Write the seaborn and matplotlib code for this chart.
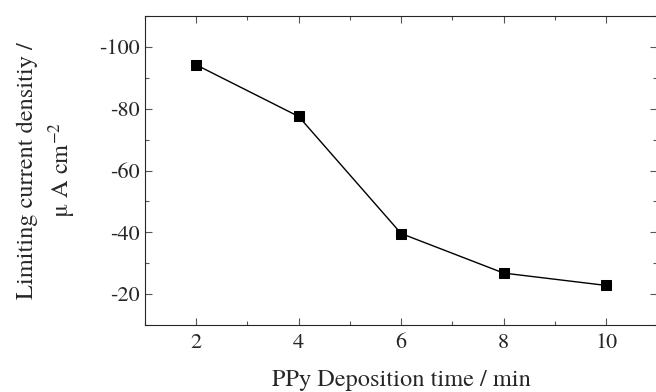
import matplotlib
matplotlib.use("Agg")
import matplotlib.pyplot as plt
import seaborn as sns
import pandas as pd
from matplotlib.ticker import MultipleLocator

deposition_time = [2, 4, 6, 8, 10]
current_density = [-94.2, -77.5, -39.6, -26.8, -22.8]
x_ticks = [2, 4, 6, 8, 10]
y_ticks = [-100, -80, -60, -40, -20]

sns.set_style("ticks")
plt.rcParams['font.family'] = ['TeX Gyre Termes', 'Liberation Serif', 'DejaVu Serif']
plt.rcParams['mathtext.fontset'] = 'stix'
plt.rcParams['axes.unicode_minus'] = False

df = pd.DataFrame({"t": deposition_time, "j": current_density})

fig = plt.figure(figsize=(6.56, 3.92), dpi=100)
ax = fig.add_axes([0.221, 0.171, 0.781, 0.788])

sns.lineplot(data=df, x="t", y="j", ax=ax, color="black", linewidth=1.0,
             marker="s", markersize=6.5, markeredgecolor="black",
             markerfacecolor="black")

ax.set_xlim(1, 11)
ax.set_ylim(-10, -110)
ax.set_xticks(x_ticks)
ax.set_yticks(y_ticks)
ax.xaxis.set_minor_locator(MultipleLocator(1))
ax.yaxis.set_minor_locator(MultipleLocator(10))
ax.tick_params(which="both", direction="in", top=True, right=True,
               labelsize=16, width=0.8, color="#555555")
ax.tick_params(which="major", length=5)
ax.tick_params(which="minor", length=3)
ax.tick_params(axis="x", pad=6)
ax.tick_params(axis="y", pad=4)
for s in ax.spines.values():
    s.set_linewidth(0.8)

ax.set_xlabel("PPy Deposition time / min", fontsize=17.5, labelpad=12)
ax.set_ylabel("Limiting current densitiy /\n\u03bc A cm$^{-2}$", fontsize=17.5,
              labelpad=15, linespacing=1.35)

fig.savefig("out.png", dpi=100)
